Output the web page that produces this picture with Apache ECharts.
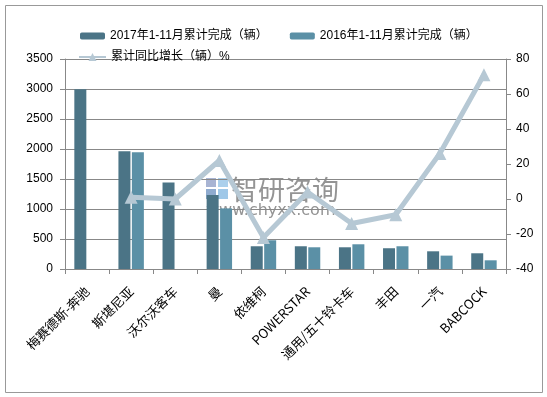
<!DOCTYPE html>
<html>
<head>
<meta charset="utf-8">
<script src="https://cdn.jsdelivr.net/npm/echarts@6/dist/echarts.min.js"></script>
<style>
html,body{margin:0;padding:0;background:#fff;}
#c{width:547px;height:397px;}
</style>
</head>
<body>
<div id="c"></div>
<script>
var categories = ['梅赛德斯-奔驰','斯堪尼亚','沃尔沃客车','曼','依维柯','POWERSTAR','通用/五十铃卡车','丰田','一汽','BABCOCK'];
var sales2017 = [2995, 1962, 1443, 1235, 379, 379, 362, 346, 295, 262];
var sales2016 = [null, 1945, null, 1010, 479, 362, 412, 379, 223, 145];
var growth = [null, 1, 0, 22, -22, 4, -14, -9, 26, 71];
var leftTicks = [0, 3500, 500];
var rightTicks = [-40, 80, 20];

var FONT = "'Liberation Sans','Noto Sans CJK SC',sans-serif";
var chart = echarts.init(document.getElementById('c'));
chart.setOption({
  animation: false,
  textStyle: {fontFamily: FONT},
  graphic: [
    {type:'rect', shape:{x:5.5,y:5.5,width:537,height:387}, style:{fill:'none',stroke:'#999',lineWidth:1}, z:0},
    {type:'group', z:100, children:[
      {type:'rect', shape:{x:206,y:178,width:10,height:9}, style:{fill:'#8b9bc4',opacity:0.75}},
      {type:'rect', shape:{x:218,y:178,width:10,height:9}, style:{fill:'#8fc0e6',opacity:0.75}},
      {type:'rect', shape:{x:206,y:189,width:10,height:10}, style:{fill:'#6a8fbf',opacity:0.75}},
      {type:'rect', shape:{x:218,y:189,width:10,height:10}, style:{fill:'#7fb6e0',opacity:0.75}},
      {type:'text', x:231, y:176, style:{text:'智研咨询', fontSize:27, fill:'#707070', opacity:0.75, fontFamily:"'Noto Sans CJK SC'"}},
      {type:'text', x:206, y:203, style:{text:'www.chyxx.com', fontSize:16, fill:'#707070', opacity:0.75, fontFamily:"'DejaVu Sans'"}}
    ]}
  ],
  legend: [
    {left:75, top:25, itemWidth:25, itemHeight:7, itemGap:22, textStyle:{fontSize:12,color:'#000',fontFamily:FONT},
     data:['2017年1-11月累计完成（辆）','2016年1-11月累计完成（辆）']},
    {left:73, top:46, itemWidth:27, itemHeight:10, textStyle:{fontSize:12,color:'#000',fontFamily:FONT},
     data:['累计同比增长（辆）%']}
  ],
  grid: {left:65, right:41, top:59, bottom:128, containLabel:false},
  xAxis: {
    type:'category', data:categories, boundaryGap:true,
    axisLine:{lineStyle:{color:'#888'}},
    axisTick:{show:true, length:5, lineStyle:{color:'#888'}},
    axisLabel:{rotate:45, interval:0, fontSize:13, color:'#000', margin:20, fontFamily:"'Noto Sans CJK SC',sans-serif"}
  },
  yAxis: [
    {type:'value', min:leftTicks[0], max:leftTicks[1], interval:leftTicks[2],
     axisLine:{show:true, lineStyle:{color:'#888'}},
     axisTick:{show:true, length:5, lineStyle:{color:'#888'}},
     axisLabel:{fontSize:12, color:'#000', margin:12, formatter:function(v){return String(v);}},
     splitLine:{lineStyle:{color:'#888', width:1}}},
    {type:'value', min:rightTicks[0], max:rightTicks[1], interval:rightTicks[2],
     axisLine:{show:true, lineStyle:{color:'#888'}},
     axisTick:{show:true, length:5, lineStyle:{color:'#888'}},
     axisLabel:{fontSize:12, color:'#000', margin:10, formatter:function(v){return String(v);}},
     splitLine:{show:false}}
  ],
  series: [
    {name:'2017年1-11月累计完成（辆）', type:'bar', data:sales2017, barWidth:12, barGap:'12%',
     itemStyle:{color:'#4b7486'}, z:2},
    {name:'2016年1-11月累计完成（辆）', type:'bar', data:sales2016, barWidth:12,
     itemStyle:{color:'#5b90a6'}, z:2},
    {name:'累计同比增长（辆）%', type:'line', yAxisIndex:1, data:growth,
     symbol:'triangle', symbolSize:13, showSymbol:true,
     lineStyle:{color:'#b6c8d4', width:5},
     itemStyle:{color:'#b6c8d4'}, z:5}
  ]
});
</script>
</body>
</html>
